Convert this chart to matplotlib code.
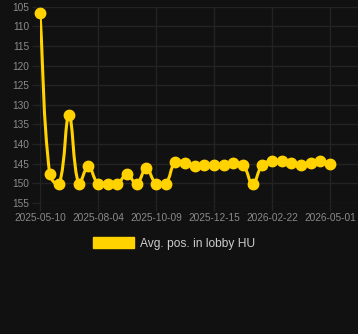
import matplotlib.pyplot as plt
from matplotlib.path import Path
from matplotlib.patches import PathPatch, Patch
import numpy as np

# Data (lower position = better, axis reversed)
positions = [106.5, 147.7, 150.1, 132.6, 150.1, 145.7, 150.1, 150.1, 150.1, 147.7,
             150.1, 146.2, 150.1, 150.1, 144.5, 144.7, 145.5, 145.2, 145.2, 145.2,
             144.9, 145.2, 150.2, 145.2, 144.3, 144.3, 144.8, 145.2, 144.9, 144.4,
             145.0]
tick_labels = ['2025-05-10', '2025-08-04', '2025-10-09',
               '2025-12-15', '2026-02-22', '2026-05-01']
y_ticks = [105, 110, 115, 120, 125, 130, 135, 140, 145, 150, 155]
series_name = 'Avg. pos. in lobby HU'

BG = '#111111'
GRID = '#232323'
GOLD = '#FFD200'
TICK_COLOR = '#8a8a8a'

plt.rcParams['font.family'] = ['Liberation Sans', 'DejaVu Sans']

W, H = 358, 334
fig = plt.figure(figsize=(W / 100, H / 100), dpi=100, facecolor=BG)
# plot area in pixels: left 40, right 358, top 6.7, bottom 203
ax = fig.add_axes([40 / W, 1 - 203 / H, (W - 40) / W, (203 - 6.7) / H])
ax.set_facecolor(BG)

x = np.arange(len(positions))
px_per_step = 290 / (len(positions) - 1)
ax.set_xlim(0, (W - 40) / px_per_step)
ax.set_ylim(y_ticks[-1], y_ticks[0])

ax.set_xticks(x[::6])
ax.set_xticklabels(tick_labels)
ax.set_yticks(y_ticks)

ax.grid(True, color=GRID, linewidth=1)
ax.set_axisbelow(True)
for s in ax.spines.values():
    s.set_visible(False)
ax.tick_params(axis='both', colors=GRID, labelcolor=TICK_COLOR, labelsize=7.3,
               length=5.8, width=1)
ax.tick_params(axis='x', pad=1.5)
ax.tick_params(axis='y', pad=2)


def smooth_path(ax, xs, ys, tension=0.4):
    # Chart.js style bezier curve through the points
    pts = ax.transData.transform(np.column_stack([xs, ys]))
    x0, y0, x1, y1 = ax.bbox.extents
    n = len(pts)
    cp_in, cp_out = [], []
    for i in range(n):
        prev = pts[max(i - 1, 0)]
        cur = pts[i]
        nxt = pts[min(i + 1, n - 1)]
        d01 = np.hypot(*(cur - prev))
        d12 = np.hypot(*(nxt - cur))
        tot = d01 + d12
        s01 = d01 / tot if tot else 0
        s12 = d12 / tot if tot else 0
        a = cur - tension * s01 * (nxt - prev)
        b = cur + tension * s12 * (nxt - prev)
        a = np.clip(a, [x0, y0], [x1, y1])
        b = np.clip(b, [x0, y0], [x1, y1])
        cp_in.append(a)
        cp_out.append(b)
    verts = [pts[0]]
    codes = [Path.MOVETO]
    for i in range(1, n):
        verts += [cp_out[i - 1], cp_in[i], pts[i]]
        codes += [Path.CURVE4] * 3
    verts = ax.transData.inverted().transform(np.array(verts))
    return Path(verts, codes)


line = PathPatch(smooth_path(ax, x, positions), facecolor='none',
                 edgecolor=GOLD, linewidth=2.2, capstyle='round',
                 joinstyle='round', zorder=3)
ax.add_patch(line)
ax.plot(x, positions, 'o', color=GOLD, markersize=7.5, zorder=4, clip_on=False)

handle = Patch(facecolor=GOLD, edgecolor=GOLD)
fig.legend([handle], [series_name], loc='center',
           bbox_to_anchor=(174 / W, 1 - 243.5 / H), frameon=False,
           fontsize=8.64, labelcolor='#cccccc', handlelength=3.4,
           handleheight=1.0, handletextpad=0.45)

fig.savefig('out.png', dpi=100, facecolor=BG)
